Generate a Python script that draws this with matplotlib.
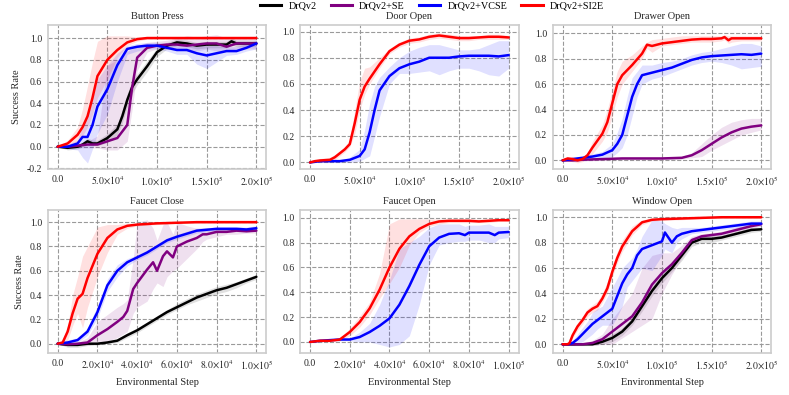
import numpy as np
import matplotlib
matplotlib.use("Agg")
import matplotlib.pyplot as plt
from matplotlib.ticker import FuncFormatter, MultipleLocator

plt.rcParams['font.family'] = ['Liberation Serif', 'DejaVu Serif']
plt.rcParams['mathtext.fontset'] = 'stix'

series_names = ["DrQv2", "DrQv2+SE", "DrQv2+VCSE", "DrQv2+SI2E"]
panel_titles = ["Button Press", "Door Open", "Drawer Open", "Faucet Close", "Faucet Open", "Window Open"]

# ---------------- Button Press (x in units of 1e4 steps) ----------------
bp_black_x = [0, 1, 2, 2.5, 3, 3.5, 4, 5, 6, 6.5, 7, 7.5, 8, 9, 10, 11, 12, 13, 14, 15, 16, 17, 17.5, 18, 19, 20]
bp_black_y = [0, -0.01, 0.0, 0.02, 0.05, 0.03, 0.03, 0.08, 0.16, 0.28, 0.43, 0.55, 0.62, 0.74, 0.87, 0.93, 0.96, 0.95, 0.93, 0.94, 0.94, 0.94, 0.97, 0.95, 0.95, 0.95]
bp_black_lo = [0, -0.03, -0.02, 0.0, 0.02, 0.01, 0.01, 0.04, 0.11, 0.22, 0.37, 0.49, 0.57, 0.69, 0.83, 0.9, 0.93, 0.92, 0.9, 0.91, 0.91, 0.91, 0.94, 0.92, 0.92, 0.92]
bp_black_hi = [0, 0.01, 0.02, 0.04, 0.08, 0.06, 0.06, 0.12, 0.21, 0.34, 0.49, 0.61, 0.67, 0.79, 0.91, 0.96, 0.99, 0.98, 0.96, 0.97, 0.97, 0.97, 1.0, 0.98, 0.98, 0.98]

bp_purple_x = [0, 1, 2, 3, 4, 5, 6, 7, 7.5, 8, 9, 10, 11, 12, 13, 14, 15, 16, 17, 18, 19, 20]
bp_purple_y = [0, 0.0, 0.01, 0.02, 0.02, 0.05, 0.08, 0.2, 0.55, 0.82, 0.91, 0.93, 0.94, 0.94, 0.93, 0.94, 0.95, 0.95, 0.92, 0.95, 0.95, 0.95]
bp_purple_lo = [0, -0.01, -0.01, -0.01, -0.01, -0.03, -0.03, 0.05, 0.35, 0.7, 0.87, 0.9, 0.9, 0.9, 0.88, 0.88, 0.9, 0.88, 0.88, 0.9, 0.9, 0.9]
bp_purple_hi = [0, 0.01, 0.03, 0.05, 0.1, 0.75, 0.8, 0.88, 0.9, 0.93, 0.96, 0.97, 0.98, 1.0, 1.02, 1.01, 1.02, 1.03, 1.0, 1.0, 1.0, 1.0]

bp_blue_x = [0, 1, 2, 2.5, 3, 3.5, 4, 5, 6, 7, 8, 9, 10, 11, 12, 13, 14, 15, 16, 17, 18, 19, 20]
bp_blue_y = [0, 0.0, 0.03, 0.09, 0.09, 0.2, 0.37, 0.53, 0.75, 0.9, 0.92, 0.93, 0.93, 0.91, 0.89, 0.89, 0.86, 0.84, 0.86, 0.88, 0.88, 0.91, 0.95]
bp_blue_lo = [0, -0.02, -0.03, -0.1, -0.15, -0.02, 0.12, 0.3, 0.6, 0.85, 0.88, 0.9, 0.9, 0.88, 0.85, 0.85, 0.76, 0.72, 0.78, 0.84, 0.85, 0.88, 0.9]
bp_blue_hi = [0, 0.02, 0.06, 0.2, 0.28, 0.45, 0.62, 0.75, 0.86, 0.93, 0.95, 0.96, 0.96, 0.95, 0.93, 0.93, 0.93, 0.93, 0.93, 0.92, 0.92, 0.95, 0.98]

bp_red_x = [0, 1, 2, 2.5, 3, 3.5, 4, 5, 6, 7, 8, 9, 10, 12, 14, 16, 18, 20]
bp_red_y = [0, 0.03, 0.11, 0.18, 0.28, 0.45, 0.65, 0.80, 0.89, 0.96, 0.99, 1.0, 1.0, 1.0, 1.0, 1.0, 1.0, 1.0]
bp_red_lo = [0, 0.0, 0.05, 0.1, 0.18, 0.3, 0.45, 0.62, 0.82, 0.93, 0.97, 0.99, 0.99, 0.99, 0.99, 0.99, 0.99, 0.99]
bp_red_hi = [0, 0.06, 0.18, 0.35, 0.56, 0.78, 0.97, 1.02, 1.02, 1.02, 1.01, 1.01, 1.01, 1.01, 1.01, 1.01, 1.01, 1.01]

# ---------------- Door Open ----------------
do_blue_x = [0, 1, 2, 3, 4, 5, 5.5, 6, 6.5, 7, 8, 9, 10, 11, 12, 13, 14, 15, 16, 17, 18, 19, 20]
do_blue_y = [0, 0.01, 0.01, 0.01, 0.02, 0.05, 0.1, 0.23, 0.4, 0.55, 0.66, 0.72, 0.75, 0.77, 0.8, 0.8, 0.8, 0.81, 0.815, 0.815, 0.815, 0.81, 0.82]
do_blue_lo = [0, 0.0, 0.0, 0.0, 0.0, 0.01, 0.03, 0.05, 0.2, 0.35, 0.6, 0.68, 0.68, 0.69, 0.7, 0.67, 0.7, 0.72, 0.72, 0.7, 0.67, 0.66, 0.72]
do_blue_hi = [0, 0.02, 0.02, 0.02, 0.04, 0.1, 0.25, 0.45, 0.58, 0.65, 0.73, 0.8, 0.85, 0.88, 0.9, 0.9, 0.88, 0.86, 0.86, 0.87, 0.9, 0.93, 0.93]

do_red_x = [0, 0.5, 1, 2, 2.5, 3, 3.5, 4, 4.5, 5, 5.5, 6, 7, 8, 9, 10, 11, 12, 13, 14, 15, 16, 17, 18, 19, 20]
do_red_y = [0, 0.01, 0.015, 0.02, 0.04, 0.07, 0.1, 0.14, 0.3, 0.48, 0.58, 0.64, 0.75, 0.85, 0.9, 0.93, 0.94, 0.96, 0.97, 0.96, 0.95, 0.95, 0.955, 0.96, 0.96, 0.955]
do_red_lo = [0, 0.0, 0.0, 0.0, 0.02, 0.05, 0.08, 0.12, 0.22, 0.4, 0.52, 0.6, 0.72, 0.83, 0.88, 0.91, 0.92, 0.94, 0.95, 0.94, 0.93, 0.93, 0.94, 0.94, 0.94, 0.94]
do_red_hi = [0, 0.02, 0.03, 0.04, 0.06, 0.09, 0.12, 0.17, 0.4, 0.62, 0.72, 0.73, 0.8, 0.87, 0.92, 0.95, 0.96, 0.98, 0.99, 0.98, 0.97, 0.97, 0.97, 0.98, 0.98, 0.97]

# ---------------- Drawer Open ----------------
dr_purple_x = [0, 1, 2, 4, 6, 8, 10, 12, 13, 14, 15, 16, 17, 18, 19, 20]
dr_purple_y = [0, 0.0, 0.005, 0.01, 0.015, 0.015, 0.015, 0.02, 0.04, 0.08, 0.13, 0.18, 0.22, 0.25, 0.265, 0.275]
dr_purple_lo = [0, -0.01, -0.005, 0.0, 0.005, 0.005, 0.005, 0.01, 0.02, 0.03, 0.08, 0.12, 0.16, 0.2, 0.22, 0.24]
dr_purple_hi = [0, 0.01, 0.015, 0.02, 0.025, 0.025, 0.025, 0.03, 0.06, 0.13, 0.2, 0.26, 0.3, 0.32, 0.33, 0.33]

dr_blue_x = [0, 1, 2, 3, 4, 5, 5.5, 6, 6.5, 7, 7.5, 8, 9, 10, 11, 12, 13, 14, 15, 16, 17, 18, 19, 20]
dr_blue_y = [0, 0.01, 0.02, 0.03, 0.045, 0.08, 0.13, 0.2, 0.35, 0.5, 0.6, 0.67, 0.69, 0.71, 0.73, 0.76, 0.79, 0.81, 0.82, 0.825, 0.83, 0.835, 0.83, 0.84]
dr_blue_lo = [0, -0.01, 0.0, 0.01, 0.02, 0.03, 0.06, 0.1, 0.2, 0.35, 0.5, 0.6, 0.64, 0.66, 0.69, 0.72, 0.75, 0.77, 0.78, 0.77, 0.75, 0.72, 0.73, 0.74]
dr_blue_hi = [0, 0.02, 0.03, 0.05, 0.07, 0.13, 0.22, 0.33, 0.5, 0.65, 0.7, 0.75, 0.75, 0.77, 0.78, 0.8, 0.83, 0.85, 0.86, 0.88, 0.9, 0.92, 0.92, 0.9]

dr_red_x = [0, 0.5, 1, 1.5, 2, 2.5, 3, 4, 4.5, 5, 5.5, 6, 7, 8, 8.5, 9, 10, 11, 12, 13, 14, 15, 16, 16.3, 16.7, 17, 18, 19, 20]
dr_red_y = [0, 0.015, 0.01, 0.0, 0.01, 0.04, 0.1, 0.21, 0.3, 0.45, 0.6, 0.67, 0.75, 0.84, 0.91, 0.9, 0.92, 0.93, 0.94, 0.95, 0.955, 0.955, 0.96, 0.97, 0.945, 0.96, 0.96, 0.96, 0.96]
dr_red_lo = [0, -0.005, -0.01, -0.02, -0.01, 0.02, 0.05, 0.15, 0.22, 0.35, 0.5, 0.6, 0.7, 0.8, 0.88, 0.85, 0.9, 0.91, 0.92, 0.93, 0.93, 0.93, 0.94, 0.95, 0.92, 0.93, 0.94, 0.94, 0.94]
dr_red_hi = [0, 0.03, 0.03, 0.02, 0.03, 0.06, 0.15, 0.28, 0.4, 0.55, 0.7, 0.78, 0.83, 0.9, 0.93, 0.95, 0.96, 0.97, 0.98, 0.98, 0.98, 0.98, 0.98, 0.99, 0.98, 0.98, 0.98, 0.98, 0.98]

# ---------------- Faucet Close ----------------
fc_black_x = [0, 0.5, 1, 1.5, 2, 2.5, 3, 3.5, 4, 4.5, 5, 5.5, 6, 6.5, 7, 7.5, 8, 8.5, 9, 9.5, 10]
fc_black_y = [0, -0.01, -0.01, 0.0, 0.0, 0.01, 0.025, 0.07, 0.11, 0.16, 0.21, 0.26, 0.3, 0.34, 0.38, 0.41, 0.44, 0.46, 0.49, 0.52, 0.55]
fc_black_lo = [0, -0.03, -0.03, -0.015, -0.01, 0.0, 0.01, 0.05, 0.09, 0.14, 0.19, 0.24, 0.28, 0.32, 0.35, 0.38, 0.41, 0.43, 0.46, 0.5, 0.53]
fc_black_hi = [0, 0.005, 0.005, 0.01, 0.01, 0.02, 0.04, 0.09, 0.13, 0.18, 0.23, 0.28, 0.33, 0.37, 0.41, 0.44, 0.47, 0.49, 0.51, 0.54, 0.57]

fc_purple_x = [0, 0.5, 1, 1.5, 2, 2.5, 3, 3.3, 3.5, 3.8, 4, 4.5, 4.8, 5, 5.3, 5.5, 5.8, 6, 6.5, 7, 7.3, 7.5, 8, 8.5, 9, 9.5, 10]
fc_purple_y = [0, -0.005, 0.0, 0.01, 0.07, 0.12, 0.18, 0.22, 0.27, 0.45, 0.5, 0.61, 0.67, 0.6, 0.72, 0.76, 0.71, 0.8, 0.84, 0.87, 0.9, 0.9, 0.92, 0.92, 0.93, 0.925, 0.93]
fc_purple_lo = [0, -0.01, -0.01, -0.01, 0.0, 0.02, 0.05, 0.08, 0.1, 0.25, 0.3, 0.35, 0.45, 0.5, 0.47, 0.55, 0.6, 0.62, 0.7, 0.78, 0.84, 0.86, 0.88, 0.9, 0.9, 0.91, 0.91]
fc_purple_hi = [0, 0.005, 0.01, 0.05, 0.18, 0.24, 0.3, 0.33, 0.36, 0.7, 1.0, 1.02, 0.95, 0.85, 0.98, 1.0, 0.9, 1.0, 0.97, 0.95, 0.95, 0.95, 0.95, 0.95, 0.95, 0.94, 0.95]

fc_blue_x = [0, 0.5, 1, 1.5, 2, 2.5, 3, 3.5, 4, 4.5, 5, 5.5, 6, 7, 8, 9, 9.5, 10]
fc_blue_y = [0, 0.01, 0.03, 0.1, 0.26, 0.48, 0.6, 0.67, 0.71, 0.75, 0.8, 0.85, 0.88, 0.93, 0.945, 0.945, 0.94, 0.95]
fc_blue_lo = [0, -0.01, 0.01, 0.07, 0.21, 0.43, 0.55, 0.64, 0.69, 0.73, 0.78, 0.83, 0.86, 0.91, 0.93, 0.93, 0.92, 0.93]
fc_blue_hi = [0, 0.03, 0.05, 0.13, 0.31, 0.53, 0.65, 0.7, 0.73, 0.77, 0.82, 0.87, 0.9, 0.95, 0.96, 0.96, 0.96, 0.97]

fc_red_x = [0, 0.25, 0.5, 0.75, 1, 1.25, 1.5, 2, 2.5, 3, 3.5, 4, 5, 6, 7, 8, 9, 10]
fc_red_y = [0, 0.01, 0.1, 0.25, 0.37, 0.41, 0.54, 0.74, 0.87, 0.94, 0.97, 0.98, 0.99, 0.995, 1.0, 1.0, 1.0, 1.0]
fc_red_lo = [0, 0.0, 0.03, 0.15, 0.25, 0.13, 0.3, 0.55, 0.75, 0.9, 0.95, 0.97, 0.98, 0.99, 0.99, 0.99, 0.99, 0.99]
fc_red_hi = [0, 0.03, 0.15, 0.4, 0.55, 0.72, 0.8, 0.96, 0.98, 0.98, 0.99, 0.99, 1.0, 1.0, 1.01, 1.01, 1.01, 1.01]

# ---------------- Faucet Open ----------------
fo_blue_x = [0, 0.5, 1, 1.5, 2, 2.5, 3, 3.5, 4, 4.5, 5, 5.5, 6, 6.5, 7, 7.5, 7.8, 8, 8.5, 9, 9.3, 9.5, 10]
fo_blue_y = [0, 0.01, 0.015, 0.02, 0.02, 0.04, 0.08, 0.13, 0.19, 0.3, 0.45, 0.62, 0.77, 0.84, 0.87, 0.875, 0.86, 0.88, 0.88, 0.88, 0.86, 0.88, 0.885]
fo_blue_lo = [0, 0.0, 0.005, 0.01, 0.01, 0.0, 0.0, -0.02, -0.04, -0.02, 0.05, 0.3, 0.62, 0.78, 0.8, 0.81, 0.81, 0.82, 0.82, 0.8, 0.8, 0.83, 0.84]
fo_blue_hi = [0, 0.02, 0.025, 0.03, 0.03, 0.08, 0.15, 0.3, 0.5, 0.75, 0.8, 0.85, 0.92, 0.95, 0.95, 0.95, 0.93, 0.94, 0.94, 0.95, 0.93, 0.93, 0.93]

fo_red_x = [0, 0.5, 1, 1.5, 2, 2.5, 3, 3.5, 4, 4.5, 5, 5.5, 6, 6.5, 7, 7.5, 8, 8.5, 9, 9.5, 10]
fo_red_y = [0, 0.01, 0.01, 0.02, 0.08, 0.16, 0.27, 0.42, 0.6, 0.75, 0.85, 0.91, 0.95, 0.97, 0.975, 0.975, 0.975, 0.97, 0.975, 0.98, 0.98]
fo_red_lo = [0, 0.0, 0.0, 0.01, 0.05, 0.12, 0.22, 0.35, 0.47, 0.6, 0.78, 0.88, 0.93, 0.95, 0.96, 0.96, 0.96, 0.96, 0.96, 0.97, 0.97]
fo_red_hi = [0, 0.02, 0.02, 0.03, 0.11, 0.21, 0.32, 0.55, 0.95, 0.99, 0.99, 0.99, 0.99, 0.99, 0.99, 0.99, 0.99, 0.99, 0.99, 0.99, 0.99]

# ---------------- Window Open ----------------
wo_black_x = [0, 1, 2, 3, 4, 5, 6, 7, 8, 9, 10, 11, 12, 13, 14, 15, 16, 17, 18, 19, 20]
wo_black_y = [0, 0.0, 0.0, 0.0, 0.02, 0.05, 0.1, 0.18, 0.3, 0.42, 0.52, 0.6, 0.7, 0.8, 0.83, 0.83, 0.84, 0.86, 0.88, 0.9, 0.905]
wo_black_lo = [0, -0.01, -0.01, -0.01, 0.0, 0.02, 0.07, 0.15, 0.26, 0.38, 0.48, 0.57, 0.66, 0.77, 0.8, 0.8, 0.82, 0.84, 0.86, 0.88, 0.89]
wo_black_hi = [0, 0.01, 0.01, 0.01, 0.04, 0.08, 0.13, 0.21, 0.34, 0.46, 0.56, 0.63, 0.74, 0.84, 0.86, 0.86, 0.86, 0.88, 0.9, 0.92, 0.92]

wo_purple_x = [0, 1, 2, 3, 4, 5, 6, 7, 8, 9, 10, 11, 12, 13, 14, 15, 16, 17, 18, 19, 20]
wo_purple_y = [0, 0.0, 0.0, 0.01, 0.04, 0.1, 0.16, 0.22, 0.33, 0.47, 0.56, 0.63, 0.72, 0.82, 0.85, 0.86, 0.87, 0.89, 0.91, 0.93, 0.945]
wo_purple_lo = [0, -0.01, -0.01, -0.01, 0.0, 0.0, 0.05, 0.1, 0.15, 0.2, 0.4, 0.55, 0.68, 0.79, 0.83, 0.84, 0.85, 0.87, 0.89, 0.91, 0.93]
wo_purple_hi = [0, 0.01, 0.01, 0.03, 0.08, 0.2, 0.3, 0.4, 0.6, 0.7, 0.72, 0.72, 0.78, 0.85, 0.87, 0.88, 0.89, 0.91, 0.93, 0.95, 0.96]

wo_blue_x = [0, 0.5, 1, 1.5, 2, 2.5, 3, 3.5, 4, 5, 5.5, 6, 6.5, 7, 7.5, 8, 9, 10, 10.3, 11, 11.5, 12, 13, 14, 15, 16, 17, 18, 19, 20]
wo_blue_y = [0, 0.0, 0.01, 0.04, 0.08, 0.12, 0.16, 0.19, 0.22, 0.28, 0.38, 0.48, 0.55, 0.6, 0.7, 0.75, 0.78, 0.81, 0.88, 0.8, 0.85, 0.87, 0.89, 0.9, 0.91, 0.92, 0.93, 0.94, 0.95, 0.95]
wo_blue_lo = [0, -0.01, -0.01, 0.0, 0.02, 0.05, 0.08, 0.12, 0.15, 0.15, 0.22, 0.3, 0.45, 0.5, 0.55, 0.6, 0.58, 0.7, 0.75, 0.72, 0.8, 0.83, 0.87, 0.88, 0.89, 0.9, 0.91, 0.92, 0.93, 0.93]
wo_blue_hi = [0, 0.01, 0.03, 0.08, 0.13, 0.18, 0.25, 0.28, 0.3, 0.45, 0.52, 0.6, 0.64, 0.68, 0.75, 0.85, 0.98, 0.97, 0.95, 0.92, 0.91, 0.92, 0.92, 0.92, 0.93, 0.94, 0.95, 0.96, 0.97, 0.97]

wo_red_x = [0, 0.5, 0.7, 1, 1.5, 2, 2.5, 3, 3.5, 4, 4.5, 5, 5.5, 6, 7, 8, 9, 10, 12, 14, 16, 18, 20]
wo_red_y = [0, 0.0, 0.01, 0.07, 0.14, 0.19, 0.25, 0.28, 0.3, 0.36, 0.44, 0.57, 0.68, 0.77, 0.89, 0.96, 0.98, 0.985, 0.99, 0.995, 1.0, 1.0, 1.0]
wo_red_lo = [0, -0.01, 0.0, 0.05, 0.11, 0.16, 0.22, 0.25, 0.27, 0.33, 0.4, 0.53, 0.64, 0.73, 0.86, 0.94, 0.97, 0.975, 0.98, 0.99, 0.99, 0.99, 0.99]
wo_red_hi = [0, 0.01, 0.03, 0.1, 0.17, 0.22, 0.28, 0.31, 0.34, 0.4, 0.49, 0.62, 0.73, 0.82, 0.93, 0.98, 0.99, 0.995, 1.0, 1.0, 1.01, 1.01, 1.01]

colors = {"DrQv2": "black", "DrQv2+SE": "#800080", "DrQv2+VCSE": "#0000ff", "DrQv2+SI2E": "#ff0000"}

panels = [
    dict(title="Button Press", step=5e4, xmax=2e5, ylim=(-0.205, 1.12), yticks=[-0.2, 0, 0.2, 0.4, 0.6, 0.8, 1.0],
         series=[("DrQv2", bp_black_x, bp_black_y, bp_black_lo, bp_black_hi),
                 ("DrQv2+SE", bp_purple_x, bp_purple_y, bp_purple_lo, bp_purple_hi),
                 ("DrQv2+VCSE", bp_blue_x, bp_blue_y, bp_blue_lo, bp_blue_hi),
                 ("DrQv2+SI2E", bp_red_x, bp_red_y, bp_red_lo, bp_red_hi)]),
    dict(title="Door Open", step=5e4, xmax=2e5, ylim=(-0.05, 1.05), yticks=[0, 0.2, 0.4, 0.6, 0.8, 1.0],
         series=[("DrQv2+VCSE", do_blue_x, do_blue_y, do_blue_lo, do_blue_hi),
                 ("DrQv2+SI2E", do_red_x, do_red_y, do_red_lo, do_red_hi)]),
    dict(title="Drawer Open", step=5e4, xmax=2e5, ylim=(-0.068, 1.065), yticks=[0, 0.2, 0.4, 0.6, 0.8, 1.0],
         series=[("DrQv2+SE", dr_purple_x, dr_purple_y, dr_purple_lo, dr_purple_hi),
                 ("DrQv2+VCSE", dr_blue_x, dr_blue_y, dr_blue_lo, dr_blue_hi),
                 ("DrQv2+SI2E", dr_red_x, dr_red_y, dr_red_lo, dr_red_hi)]),
    dict(title="Faucet Close", step=2e4, xmax=1e5, ylim=(-0.079, 1.10), yticks=[0, 0.2, 0.4, 0.6, 0.8, 1.0],
         series=[("DrQv2", fc_black_x, fc_black_y, fc_black_lo, fc_black_hi),
                 ("DrQv2+SE", fc_purple_x, fc_purple_y, fc_purple_lo, fc_purple_hi),
                 ("DrQv2+VCSE", fc_blue_x, fc_blue_y, fc_blue_lo, fc_blue_hi),
                 ("DrQv2+SI2E", fc_red_x, fc_red_y, fc_red_lo, fc_red_hi)]),
    dict(title="Faucet Open", step=2e4, xmax=1e5, ylim=(-0.091, 1.062), yticks=[0, 0.2, 0.4, 0.6, 0.8, 1.0],
         series=[("DrQv2+VCSE", fo_blue_x, fo_blue_y, fo_blue_lo, fo_blue_hi),
                 ("DrQv2+SI2E", fo_red_x, fo_red_y, fo_red_lo, fo_red_hi)]),
    dict(title="Window Open", step=5e4, xmax=2e5, ylim=(-0.071, 1.057), yticks=[0, 0.2, 0.4, 0.6, 0.8, 1.0],
         series=[("DrQv2", wo_black_x, wo_black_y, wo_black_lo, wo_black_hi),
                 ("DrQv2+SE", wo_purple_x, wo_purple_y, wo_purple_lo, wo_purple_hi),
                 ("DrQv2+VCSE", wo_blue_x, wo_blue_y, wo_blue_lo, wo_blue_hi),
                 ("DrQv2+SI2E", wo_red_x, wo_red_y, wo_red_lo, wo_red_hi)]),
]


def sci_fmt(v, pos):
    if abs(v) < 1e-9:
        return "0.0"
    e = int(np.floor(np.log10(abs(v)) + 1e-9))
    m = v / 10 ** e
    return r"$%.1f{\times}10^{%d}$" % (m, e)


W, H = 789, 395
fig = plt.figure(figsize=(W / 100, H / 100), dpi=100)
lefts = [47.8, 300.1, 552.7]
tops = [25, 210]
heights = [144, 143.3]
width = 218.5

for i, p in enumerate(panels):
    r, c = divmod(i, 3)
    ax = fig.add_axes([lefts[c] / W, 1 - (tops[r] + heights[r]) / H, width / W, heights[r] / H])
    for name, x, y, lo, hi in p["series"]:
        xs = np.array(x) * 1e4
        ax.fill_between(xs, lo, hi, color=colors[name], alpha=0.12, linewidth=0)
        ax.plot(xs, y, color=colors[name], lw=1.8, solid_capstyle='round')
    xmax = p["xmax"]
    ax.set_xlim(-0.05 * xmax, 1.05 * xmax)
    ax.set_ylim(*p["ylim"])
    ax.xaxis.set_major_locator(MultipleLocator(p["step"]))
    ax.xaxis.set_major_formatter(FuncFormatter(sci_fmt))
    ax.set_yticks(p["yticks"])
    ax.set_yticklabels(["%.1f" % t for t in p["yticks"]])
    ax.tick_params(length=0, labelsize=7, pad=4, colors='#262626')
    ax.grid(True, color='#9a9a9a', linestyle='--', linewidth=0.8)
    ax.set_axisbelow(True)
    for s in ax.spines.values():
        s.set_color('#cccccc')
        s.set_linewidth(1.2)
    ax.set_title(p["title"], fontsize=7.5, pad=4.5, color='#262626')
    if c == 0:
        ax.set_ylabel("Success Rate", fontsize=7.5, color='#262626', labelpad=4)
    if r == 1:
        ax.set_xlabel("Environmental Step", fontsize=7.5, color='#262626', labelpad=4)

handles = [plt.Line2D([], [], color=colors[n], lw=2.2) for n in series_names]
fig.legend(handles, series_names, loc='center', bbox_to_anchor=(432 / W, 1 - 6 / H), ncol=4,
           frameon=False, fontsize=7.3, handlelength=2.1, handletextpad=0.7, columnspacing=1.4,
           borderaxespad=0, borderpad=0)

fig.savefig("out.png", dpi=100)
